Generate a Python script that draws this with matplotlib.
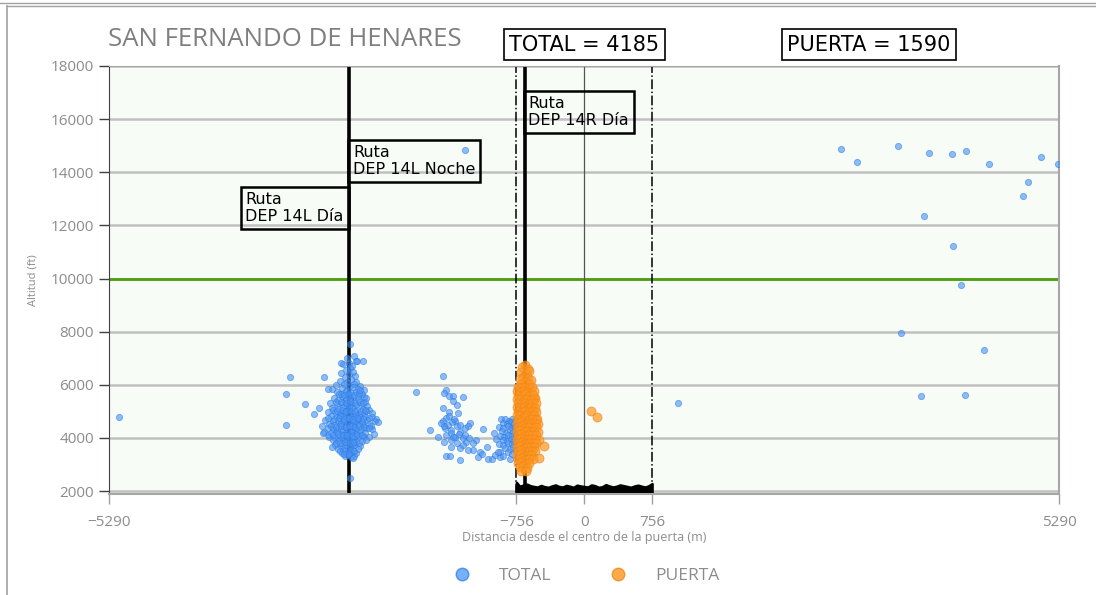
import numpy as np
import matplotlib
matplotlib.use('agg')
import matplotlib.pyplot as plt
from matplotlib.lines import Line2D

GATE = 756
XMAX = 5290
N_TOTAL = 4185
N_PUERTA = 1590
MIN_ALT = 10000
ROUTES = {'DEP 14L Día': -2620, 'DEP 14L Noche': -2620, 'DEP 14R Día': -662}

# tracks crossing the section: (distance m, altitude ft)
total_main = [
    (-2605, 7520), (-2570, 7080), (-2640, 7010), (-2540, 6900), (-2470, 6880), (-2620, 6820),
    (-2690, 6780), (-2585, 6700), (-2655, 6560), (-2610, 6620), (-2705, 6450), (-2625, 6400),
    (-2575, 6480), (-2665, 6280), (-2555, 6320), (-2720, 6150), (-2600, 6200), (-2540, 6120),
    (-2645, 6090), (-2765, 5980), (-2680, 6010), (-2615, 5960), (-2560, 6030), (-2495, 5940),
    (-2805, 5830), (-2700, 5880), (-2640, 5810), (-2580, 5900), (-2520, 5850), (-2455, 5800),
    (-2760, 5720), (-2705, 5660), (-2650, 5750), (-2600, 5690), (-2545, 5730), (-2480, 5650),
    (-2700, 5560), (-2630, 5600), (-2580, 5530), (-2520, 5580), (-2450, 5540), (-2790, 5500),
    (-2740, 5420), (-2670, 5380), (-2615, 5450), (-2560, 5360), (-2505, 5410), (-2440, 5350),
    (-2830, 5300), (-2760, 5260), (-2700, 5310), (-2645, 5240), (-2595, 5290), (-2545, 5220),
    (-2485, 5270), (-2420, 5200), (-2810, 5120), (-2745, 5080), (-2690, 5150), (-2635, 5060),
    (-2585, 5110), (-2530, 5040), (-2470, 5090), (-2395, 5060), (-2860, 4960), (-2780, 4990),
    (-2725, 4930), (-2670, 4970), (-2620, 4910), (-2565, 4960), (-2510, 4900), (-2450, 4940),
    (-2370, 4920), (-2825, 4820), (-2760, 4780), (-2705, 4840), (-2650, 4760), (-2600, 4810),
    (-2550, 4750), (-2495, 4800), (-2440, 4770), (-2365, 4790), (-2885, 4660), (-2800, 4640),
    (-2745, 4690), (-2690, 4620), (-2640, 4670), (-2590, 4610), (-2540, 4660), (-2480, 4630),
    (-2420, 4680), (-2330, 4650), (-2845, 4510), (-2785, 4470), (-2725, 4530), (-2670, 4460),
    (-2620, 4500), (-2570, 4440), (-2520, 4490), (-2460, 4460), (-2395, 4520), (-2860, 4360),
    (-2800, 4330), (-2745, 4380), (-2690, 4310), (-2640, 4350), (-2590, 4300), (-2545, 4370),
    (-2490, 4320), (-2430, 4360), (-2360, 4330), (-2900, 4210), (-2825, 4180), (-2765, 4230),
    (-2710, 4160), (-2660, 4200), (-2610, 4150), (-2560, 4220), (-2500, 4170), (-2445, 4190),
    (-2840, 4050), (-2780, 4010), (-2720, 4070), (-2670, 4000), (-2620, 4040), (-2570, 3990),
    (-2515, 4060), (-2455, 4020), (-2395, 4040), (-2800, 3910), (-2745, 3870), (-2690, 3930),
    (-2640, 3860), (-2590, 3900), (-2540, 3850), (-2480, 3890), (-2780, 3740), (-2715, 3700),
    (-2660, 3760), (-2610, 3690), (-2560, 3740), (-2500, 3710), (-2740, 3600), (-2685, 3560),
    (-2630, 3620), (-2580, 3550), (-2525, 3590), (-2700, 3440), (-2645, 3400), (-2595, 3460),
    (-2540, 3420), (-2665, 3300), (-2600, 3270), (-2560, 3320), (-2630, 3350), (-2720, 4880),
    (-2680, 4420), (-2630, 4740), (-2600, 4240), (-2570, 4580), (-2660, 4100), (-2710, 4560),
    (-2550, 4870), (-2620, 5180), (-2680, 5020), (-2590, 4460), (-2640, 3960), (-2700, 3810),
    (-2570, 3810), (-2610, 5500), (-2660, 5470), (-2520, 4700), (-2750, 4270), (-2480, 4560),
    (-2540, 4130), (-2730, 5640), (-2675, 5610), (-2620, 5660), (-2565, 5620), (-2510, 5680),
    (-2770, 5360), (-2715, 5340), (-2660, 5300), (-2610, 5370), (-2555, 5330), (-2500, 5350),
    (-2460, 5310), (-2800, 5040), (-2750, 5010), (-2700, 5060), (-2650, 5000), (-2600, 5030),
    (-2550, 5010), (-2490, 5020), (-2430, 5000), (-2850, 4740), (-2790, 4720), (-2735, 4750),
    (-2680, 4700), (-2625, 4730), (-2575, 4700), (-2525, 4760), (-2470, 4720), (-2400, 4740),
    (-2820, 4430), (-2765, 4410), (-2710, 4450), (-2655, 4400), (-2605, 4430), (-2555, 4410),
    (-2505, 4450), (-2450, 4400), (-2380, 4430), (-2860, 4120), (-2800, 4100), (-2745, 4130),
    (-2690, 4090), (-2640, 4110), (-2590, 4080), (-2530, 4120), (-2475, 4100), (-2770, 3820),
    (-2720, 3800), (-2665, 3830), (-2615, 3790), (-2565, 3830), (-2510, 3800), (-2720, 3520),
    (-2665, 3490), (-2610, 3530), (-2560, 3500), (-2680, 3380), (-2620, 3410), (-2580, 3250),
    (-2611, 2480), (-2711, 6819), (-2530, 6906), (-2498, 5803), (-2431, 5501), (-2441, 5050),
    (-2403, 4383), (-2433, 3920), (-2325, 4710), (-2300, 4600), (-2342, 4160), (-3279, 6280),
    (-3324, 5652), (-3324, 4485), (-3112, 5276), (-2897, 6280), (-2853, 5840), (-3013, 4900),
    (-2958, 5125), (-2914, 4184), (-2925, 4447), (-2808, 3657),
]
total_mid = [
    (-1572, 6341), (-1877, 5716), (-1542, 5803), (-1564, 5690), (-1505, 5565), (-1460, 5590),
    (-1356, 5527), (-1460, 5376), (-1423, 5250), (-1572, 5125), (-1505, 4962), (-1405, 4937),
    (-1535, 4749), (-1442, 4623), (-1579, 4648), (-1274, 4560), (-1293, 4435), (-1720, 4297),
    (-1553, 4360), (-1479, 4297), (-1386, 4234), (-1330, 4360), (-1126, 4335), (-1631, 4046),
    (-1535, 4109), (-1442, 4046), (-1349, 3983), (-1207, 3920), (-1312, 3857), (-1479, 3920),
    (-1386, 3607), (-1293, 3544), (-1237, 3544), (-1490, 3657), (-1163, 3481), (-1081, 3657),
    (-1542, 3305), (-1497, 3305), (-1386, 3167), (-1182, 3280), (-1144, 3380), (-1070, 3217),
    (-1033, 3192), (-996, 3343), (-940, 3468), (-940, 3280), (-829, 3192), (-1520, 4500),
    (-1470, 4580), (-1420, 4450), (-1560, 4430), (-1490, 4200), (-1450, 4700), (-1600, 4550),
    (-1510, 4820), (-1400, 4150), (-1460, 4020), (-1380, 4500), (-1330, 4100), (-1280, 4000),
    (-1240, 3800), (-1350, 3750), (-1420, 3800), (-1560, 3850),
]
total_gate = [
    (-930, 4700), (-880, 4720), (-840, 4650), (-800, 4700), (-760, 4680), (-910, 4560),
    (-860, 4520), (-820, 4580), (-780, 4540), (-740, 4600), (-950, 4420), (-900, 4380),
    (-850, 4440), (-810, 4360), (-770, 4420), (-730, 4380), (-920, 4250), (-870, 4200),
    (-830, 4280), (-790, 4220), (-750, 4260), (-710, 4200), (-940, 4080), (-890, 4040),
    (-845, 4120), (-800, 4060), (-760, 4100), (-720, 4040), (-910, 3920), (-865, 3880),
    (-820, 3960), (-780, 3900), (-740, 3940), (-950, 3780), (-900, 3740), (-850, 3800),
    (-805, 3760), (-765, 3720), (-880, 3620), (-830, 3580), (-790, 3650), (-960, 3450),
    (-845, 3480), (-800, 3400), (-900, 3330), (-760, 3550), (-980, 3950), (-1000, 4200),
]
total_far = [
    (-5183, 4786), (-1331, 14838), (1046, 5313), (2858, 14876), (3044, 14398), (3501, 14978),
    (3846, 14737), (4103, 14688), (4259, 14790), (4515, 14300), (5086, 14587), (5279, 14300),
    (4942, 13623), (4886, 13095), (3786, 12365), (4114, 11213), (4199, 9767), (3530, 7937),
    (4459, 7297), (3757, 5565), (4243, 5614),
]
puerta = [
    (-660, 6740), (-690, 6650), (-630, 6600), (-700, 6480), (-650, 6420), (-610, 6510),
    (-680, 6310), (-630, 6250), (-720, 6200), (-595, 6170), (-665, 6100), (-705, 6020),
    (-620, 6040), (-740, 5910), (-700, 5870), (-660, 5930), (-620, 5880), (-585, 5920),
    (-543, 5490), (-745, 5760), (-710, 5720), (-670, 5780), (-630, 5740), (-590, 5700),
    (-560, 5770), (-735, 5610), (-695, 5580), (-655, 5640), (-615, 5590), (-575, 5620),
    (-750, 5450), (-715, 5480), (-675, 5420), (-635, 5470), (-595, 5430), (-555, 5460),
    (-740, 5310), (-700, 5280), (-660, 5330), (-620, 5270), (-580, 5300), (-540, 5320),
    (-745, 5160), (-710, 5130), (-670, 5170), (-630, 5120), (-590, 5150), (-550, 5110),
    (-735, 5000), (-695, 4980), (-655, 5030), (-615, 4970), (-575, 5010), (-535, 4990),
    (-750, 4850), (-715, 4880), (-675, 4830), (-635, 4870), (-595, 4840), (-555, 4860),
    (-525, 4700), (-740, 4710), (-700, 4680), (-660, 4730), (-620, 4690), (-580, 4720),
    (-540, 4680), (-745, 4550), (-710, 4580), (-670, 4530), (-630, 4570), (-590, 4540),
    (-550, 4560), (-510, 4530), (-735, 4400), (-695, 4430), (-655, 4380), (-615, 4420),
    (-575, 4390), (-535, 4410), (-750, 4250), (-715, 4280), (-675, 4230), (-635, 4270),
    (-595, 4240), (-555, 4260), (-515, 4220), (-740, 4100), (-700, 4130), (-660, 4080),
    (-620, 4120), (-580, 4090), (-540, 4110), (-745, 3950), (-710, 3980), (-670, 3930),
    (-630, 3970), (-590, 3940), (-550, 3960), (-505, 3920), (-735, 3800), (-695, 3830),
    (-655, 3780), (-615, 3820), (-575, 3790), (-535, 3810), (-450, 3705), (-750, 3650),
    (-715, 3680), (-675, 3630), (-635, 3670), (-595, 3640), (-555, 3660), (-740, 3500),
    (-700, 3530), (-660, 3480), (-620, 3520), (-580, 3490), (-545, 3510), (-745, 3350),
    (-710, 3380), (-670, 3330), (-630, 3370), (-590, 3340), (-502, 3231), (-735, 3200),
    (-695, 3230), (-655, 3180), (-615, 3220), (-575, 3190), (-740, 3050), (-700, 3080),
    (-660, 3030), (-620, 3070), (-720, 2900), (-680, 2930), (-640, 2880), (-700, 2770),
    (-650, 2740), (73, 5012), (140, 4786),
]

# terrain profile under the gate
ground_x = [-756, -720, -680, -640, -600, -560, -520, -480, -440, -400, -360, -320, -280,
            -240, -200, -160, -120, -80, -40, 0, 40, 80, 120, 160, 200, 240, 280, 320,
            360, 400, 440, 480, 520, 560, 600, 640, 680, 720, 756]
ground_top = [2330, 2180, 2220, 2260, 2200, 2170, 2150, 2210, 2160, 2140, 2190, 2230, 2170,
              2150, 2210, 2180, 2140, 2220, 2190, 2170, 2150, 2230, 2200, 2140, 2160, 2240,
              2190, 2150, 2180, 2230, 2200, 2170, 2140, 2190, 2220, 2180, 2150, 2200, 2280]

total = np.array(total_main + total_mid + total_gate + total_far)
pts_gate = np.array(puerta)

BLUE = '#4a94f7'
BLUE_EDGE = '#2f7de0'
ORANGE = '#ff961f'
ORANGE_EDGE = '#f0861a'
GREY_TXT = '#8c8c8c'

fig = plt.figure(figsize=(10.96, 5.95), dpi=100)
ax = fig.add_axes([0.0999, 0.1703, 0.8663, 0.7188])
ax.set_facecolor('#f7fcf7')

ax.set_xlim(-XMAX, XMAX)
ax.set_ylim(1900, 18000)
ax.set_xticks([-XMAX, -GATE, 0, GATE, XMAX])
ax.set_yticks(range(2000, 18001, 2000))
ax.yaxis.grid(True, color='#c0c0c0', lw=1.8, zorder=0)
ax.set_axisbelow(True)

ax.axhline(MIN_ALT, color='#4c9f0e', lw=2, zorder=1)
ax.axvline(0, color='#555555', lw=0.9, zorder=1)
for g in (-GATE, GATE):
    ax.axvline(g, color='black', lw=1.1, ls='-.', zorder=1)
for x in set(ROUTES.values()):
    ax.axvline(x, color='black', lw=2.6, zorder=1)

ax.fill_between(ground_x, 1900, ground_top, color='black', lw=1.8, zorder=2)

ax.scatter(total[:, 0], total[:, 1], s=20, c=BLUE, alpha=0.62,
           edgecolors=BLUE_EDGE, linewidths=0.6, zorder=3)
ax.scatter(pts_gate[:, 0], pts_gate[:, 1], s=42, c=ORANGE, alpha=0.7,
           edgecolors=ORANGE_EDGE, linewidths=0.6, zorder=4)

box = dict(boxstyle='square,pad=0.3', fc='none', ec='black', lw=1.8)
ax.text(-2680, 13272, 'Ruta\nDEP 14L Día', ha='right', va='top', fontsize=11.5,
        multialignment='left', bbox=box, zorder=5)
ax.text(-2575, 15042, 'Ruta\nDEP 14L Noche', ha='left', va='top', fontsize=11.5,
        bbox=box, zorder=5)
ax.text(-622, 16887, 'Ruta\nDEP 14R Día', ha='left', va='top', fontsize=11.5,
        bbox=box, zorder=5)

for side in ('bottom', 'right', 'top'):
    ax.spines[side].set_color('#a6a6a6')
ax.spines['bottom'].set_linewidth(1.5)
ax.spines['right'].set_linewidth(1.5)
ax.spines['left'].set_color('#404040')
ax.tick_params(axis='x', colors='#a0a0a0', labelcolor=GREY_TXT, length=7, width=1,
               labelsize=11, pad=8)
ax.tick_params(axis='y', colors='#404040', labelcolor=GREY_TXT, length=7, width=1,
               labelsize=11, pad=4)
for lab in ax.get_xticklabels() + ax.get_yticklabels():
    lab.set_fontfamily('Open Sans')

fig.text(0.0985, 0.9328, 'SAN FERNANDO DE HENARES', fontsize=18.5, color='#7f7f7f',
         family='Open Sans', ha='left', va='center')
fig.text(0.5332, 0.9252, 'TOTAL = %d' % N_TOTAL, fontsize=15, ha='center', va='center',
         bbox=dict(boxstyle='square,pad=0.25', fc='white', ec='black', lw=1.2))
fig.text(0.7929, 0.9252, 'PUERTA = %d' % N_PUERTA, fontsize=15, ha='center', va='center',
         bbox=dict(boxstyle='square,pad=0.25', fc='white', ec='black', lw=1.2))
fig.text(0.0301, 0.5294, 'Altitud (ft)', rotation=90, fontsize=8, color=GREY_TXT,
         family='Open Sans', ha='center', va='center')
fig.text(0.5332, 0.0958, 'Distancia desde el centro de la puerta (m)', fontsize=9,
         color=GREY_TXT, family='Open Sans', ha='center', va='center')

handles = [
    Line2D([], [], ls='none', marker='o', ms=9, mfc=BLUE, mec=BLUE_EDGE, alpha=0.75),
    Line2D([], [], ls='none', marker='o', ms=9, mfc=ORANGE, mec=ORANGE_EDGE, alpha=0.8),
]
leg = fig.legend(handles, ['TOTAL', 'PUERTA'], loc='center', bbox_to_anchor=(0.531, 0.032),
                 ncol=2, frameon=False, handletextpad=1.15, columnspacing=2.8,
                 prop={'family': 'Open Sans', 'size': 12.5})
for t in leg.get_texts():
    t.set_color(GREY_TXT)

# frame around the sheet
fig.add_artist(Line2D([0, 1], [1 - 3 / 595] * 2, color='#a0a0a0', lw=1))
fig.add_artist(Line2D([7 / 1096, 1], [1 - 6 / 595] * 2, color='#a0a0a0', lw=1))
fig.add_artist(Line2D([7 / 1096] * 2, [0, 1 - 6 / 595], color='#a0a0a0', lw=1.2))

fig.savefig('out.png', dpi=100)
plt.close()
